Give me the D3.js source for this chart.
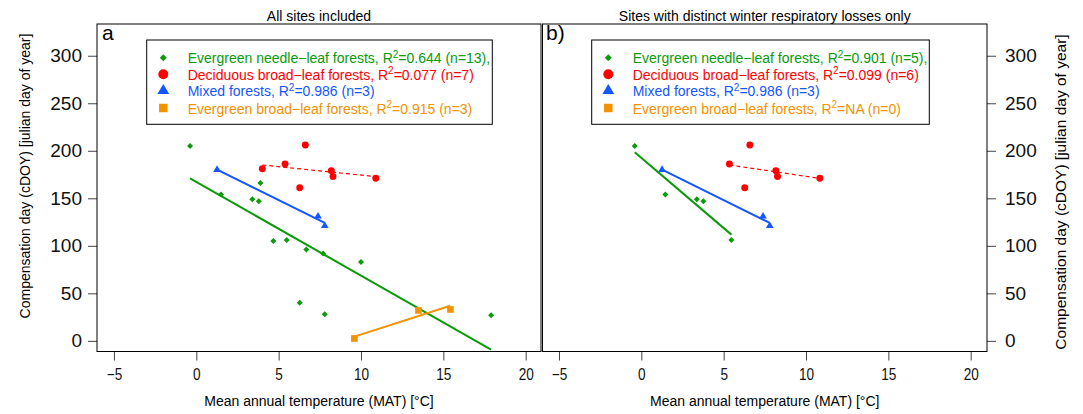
<!DOCTYPE html>
<html>
<head>
<meta charset="utf-8">
<script src="https://cdn.jsdelivr.net/npm/d3@7"></script>
<style>
  body { margin: 0; background: white; }
  svg { font-family: "Liberation Sans", Arial, sans-serif; }
</style>
</head>
<body>
<div id="screen"></div>
<script>
// ticks
const xTicks = [-5, 0, 5, 10, 15, 20]
const yTicks = [0, 50, 100, 150, 200, 250, 300]

// panel a: all sites
const enfMatA = [-0.38, 1.5, 3.89, 3.4, 3.79, 4.68, 5.49, 6.68, 7.7, 10.0, 6.28, 7.8, 17.9]
const enfDoyA = [205, 154, 166, 149, 147, 105, 106, 96, 92, 83, 40, 28, 27]
const dbfMatA = [6.62, 5.39, 4.01, 8.2, 8.3, 10.9, 6.28]
const dbfDoyA = [206, 186, 181, 179, 173, 171, 161]
const mfMatA = [1.26, 7.39, 7.8]
const mfDoyA = [180, 131, 121]
const ebfMatA = [9.6, 13.49, 15.43]
const ebfDoyA = [2.5, 32, 33]

// panel b: sites with distinct winter respiratory losses
const enfMatB = [-0.4, 1.46, 3.37, 3.77, 5.47]
const enfDoyB = [205, 154, 149, 147, 106]
const dbfMatB = [6.59, 5.35, 8.17, 8.27, 10.84, 6.28]
const dbfDoyB = [206, 186, 179, 173, 171, 161]
const mfMatB = [1.26, 7.39, 7.8]
const mfDoyB = [180, 131, 121]
const ebfMatB = []
const ebfDoyB = []

const legendA = [
    ['Evergreen needle\u2212leaf forests, R', '=0.644 (n=13),'],
    ['Deciduous broad\u2212leaf forests, R', '=0.077 (n=7)'],
    ['Mixed forests, R', '=0.986 (n=3)'],
    ['Evergreen broad\u2212leaf forests, R', '=0.915 (n=3)']
]
const legendB = [
    ['Evergreen needle\u2212leaf forests, R', '=0.901 (n=5),'],
    ['Deciduous broad\u2212leaf forests, R', '=0.099 (n=6)'],
    ['Mixed forests, R', '=0.986 (n=3)'],
    ['Evergreen broad\u2212leaf forests, R', '=NA (n=0)']
]

const colors = ['#0a9a0a', '#ff0000', '#1456ff', '#f39200']
const yTitle = 'Compensation day (cDOY) [julian day of year]'
const xTitle = 'Mean annual temperature (MAT) [\u00b0C]'

var svg = d3.select('#screen').append('svg')
    .attr('width', 1083)
    .attr('height', 414)

function symbolPath(kind, size)
{
    if (kind == 0) {
        var r = Math.sqrt(size / 2)
        return `M0,${-r}L${r},0L0,${r}L${-r},0Z`
    }
    var type = [null, d3.symbolCircle, d3.symbolTriangle, d3.symbolSquare][kind]
    return d3.symbol().type(type).size(size)()
}

function fitLine(xs, ys)
{
    var mx = d3.mean(xs), my = d3.mean(ys)
    var sxy = d3.sum(xs, (x, i) => (x - mx) * (ys[i] - my))
    var sxx = d3.sum(xs, (x) => (x - mx) * (x - mx))
    var b = sxy / sxx
    var a = my - b * mx
    var x0 = d3.min(xs), x1 = d3.max(xs)
    return [[x0, a + b * x0], [x1, a + b * x1]]
}

function drawPanel(cfg)
{
    var x = d3.scaleLinear().domain(cfg.xDomain).range(cfg.xRange)
    var y = d3.scaleLinear().domain([-11.2, 333.4]).range([351.5, 24])
    var g = svg.append('g')

    // x axis
    var xa = g.append('g')
        .attr('transform', 'translate(0,351.5)')
        .call(d3.axisBottom(x).tickValues(xTicks).tickSize(9).tickPadding(8))
    xa.select('.domain').remove()
    xa.selectAll('line').attr('stroke', '#444')
    xa.selectAll('text')
        .style('font-size', '16px')
        .attr('fill', '#111')
        .attr('transform', 'scale(0.85,1)')
    xa.attr('font-family', null)

    // y axis
    var ya
    if (cfg.side == 'left') {
        ya = g.append('g')
            .attr('transform', `translate(${cfg.xRange[0]},0)`)
            .call(d3.axisLeft(y).tickValues(yTicks).tickSize(9).tickPadding(6))
    } else {
        ya = g.append('g')
            .attr('transform', `translate(${cfg.xRange[1]},0)`)
            .call(d3.axisRight(y).tickValues(yTicks).tickSize(9).tickPadding(9))
    }
    ya.select('.domain').remove()
    ya.selectAll('line').attr('stroke', '#444')
    ya.selectAll('text').style('font-size', '19px').attr('fill', '#111')
    ya.attr('font-family', null)

    // box
    g.append('rect')
        .attr('x', cfg.xRange[0])
        .attr('y', 24)
        .attr('width', cfg.xRange[1] - cfg.xRange[0])
        .attr('height', 327.5)
        .attr('fill', 'none')
        .attr('stroke', '#000')

    // regression lines
    cfg.series.forEach(function(s, k) {
        if (s[0].length < 2) return
        var pts = fitLine(s[0], s[1])
        g.append('path')
            .attr('d', d3.line().x(d => x(d[0])).y(d => y(d[1]))(pts))
            .attr('stroke', colors[k])
            .attr('stroke-width', k == 1 ? 1.2 : 2)
            .attr('stroke-dasharray', k == 1 ? '4,3' : null)
            .attr('fill', 'none')
    })

    // points
    var sizes = [18, 38, 26, 44]
    cfg.series.forEach(function(s, k) {
        g.selectAll(null)
            .data(s[0].map((v, i) => [v, s[1][i]]))
            .enter().append('path')
            .attr('d', symbolPath(k, sizes[k]))
            .attr('transform', d => `translate(${x(d[0])},${y(d[1])})`)
            .attr('fill', colors[k])
    })

    // legend
    var lx = cfg.legend.x
    g.append('rect')
        .attr('x', lx)
        .attr('y', 40)
        .attr('width', cfg.legend.w)
        .attr('height', 84.3)
        .attr('fill', 'white')
        .attr('stroke', '#000')
    var legSizes = [24, 78, 60, 72]
    var legCy = [57.7, 74.2, 90.7, 108]
    cfg.legend.items.forEach(function(item, k) {
        g.append('path')
            .attr('d', symbolPath(k, legSizes[k]))
            .attr('transform', `translate(${lx + 16.6},${legCy[k]})`)
            .attr('fill', colors[k])
        var t = g.append('text')
            .attr('x', lx + 41)
            .attr('y', legCy[k] + 5.5)
            .attr('fill', colors[k])
            .style('font-size', '14px')
        t.append('tspan').text(item[0])
        t.append('tspan').attr('dy', -5.5).style('font-size', '10px').text('2')
        t.append('tspan').attr('dy', 5.5).text(item[1])
    })

    // titles
    var cx = (cfg.xRange[0] + cfg.xRange[1]) / 2
    g.append('text')
        .attr('x', cx)
        .attr('y', 21)
        .attr('text-anchor', 'middle')
        .style('font-size', '14px')
        .text(cfg.title)
    g.append('text')
        .attr('x', cx)
        .attr('y', 406)
        .attr('text-anchor', 'middle')
        .style('font-size', '14px')
        .text(xTitle)
    g.append('text')
        .attr('x', cfg.xRange[0] + cfg.tagDx)
        .attr('y', 39.5)
        .style('font-size', '21px')
        .text(cfg.tag)
    g.append('text')
        .attr('transform', `translate(${cfg.yTitle.x},${cfg.yTitle.y}) rotate(-90)`)
        .attr('text-anchor', 'middle')
        .style('font-size', cfg.yTitle.size + 'px')
        .text(yTitle)
}

drawPanel({
    xDomain: [-6.03, 20.93],
    xRange: [97, 541],
    side: 'left',
    title: 'All sites included',
    tag: 'a',
    tagDx: 5,
    legend: { x: 146.7, w: 345.6, items: legendA },
    yTitle: { x: 30, y: 176, size: 14 },
    series: [[enfMatA, enfDoyA], [dbfMatA, dbfDoyA], [mfMatA, mfDoyA], [ebfMatA, ebfDoyA]]
})

drawPanel({
    xDomain: [-6.0, 20.99],
    xRange: [542.5, 987],
    side: 'right',
    title: 'Sites with distinct winter respiratory losses only',
    tag: 'b)',
    tagDx: 3.5,
    legend: { x: 591.7, w: 337.6, items: legendB },
    yTitle: { x: 1066, y: 192, size: 15.5 },
    series: [[enfMatB, enfDoyB], [dbfMatB, dbfDoyB], [mfMatB, mfDoyB], [ebfMatB, ebfDoyB]]
})
</script>
</body>
</html>
